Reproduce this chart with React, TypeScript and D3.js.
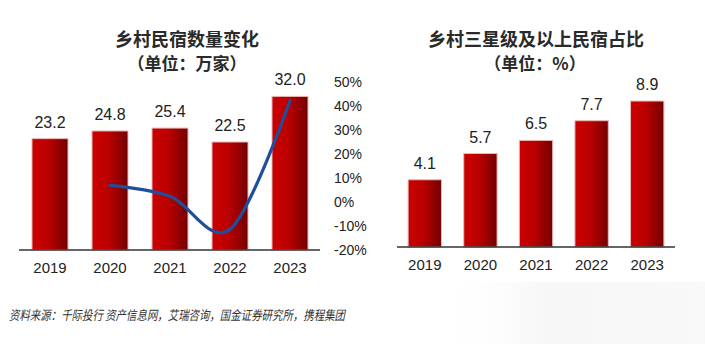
import React from "react";
import * as d3 from "d3";

const years = ["2019", "2020", "2021", "2022", "2023"];
const homestayCount = [23.2, 24.8, 25.4, 22.5, 32.0];
const growthYears = ["2020", "2021", "2022", "2023"];
const growthRate = [6.9, 2.4, -11.4, 42.2];
const growthTicks = [-20, -10, 0, 10, 20, 30, 40, 50];
const threeStarShare = [4.1, 5.7, 6.5, 7.7, 8.9];

const leftTitle = "乡村民宿数量变化";
const leftSub = "（单位：万家）";
const rightTitle = "乡村三星级及以上民宿占比";
const rightSub = "（单位：%）";
const source = "资料来源：千际投行 资产信息网，艾瑞咨询，国金证券研究所，携程集团";

const NUM_FONT = "'Liberation Sans', Arial, sans-serif";
const CJK_FONT = "'Noto Sans CJK SC', 'Noto Sans', sans-serif";

export default function App() {
  const W = 705;
  const H = 344;

  // Left chart
  const xL = d3.scaleBand<string>().domain(years).range([20, 320]).paddingInner(0.4).paddingOuter(0.2);
  const yL = d3.scaleLinear().domain([0, 35]).range([250, 82]);
  const yR = d3.scaleLinear().domain([-20, 50]).range([250, 82]);

  // Right chart
  const x2 = d3.scaleBand<string>().domain(years).range([397, 675]).paddingInner(0.4).paddingOuter(0.2);
  const y2 = d3.scaleLinear().domain([0, 10]).range([247, 83]);

  const linePts: [number, number][] = growthYears.map((y, i) => [
    (xL(y) as number) + xL.bandwidth() / 2,
    yR(growthRate[i]),
  ]);
  const lineGen = d3.line().curve(d3.curveCatmullRom.alpha(0));
  const linePath = lineGen(linePts) || "";

  return (
    <svg
      width={W}
      height={H}
      viewBox={`0 0 ${W} ${H}`}
      style={{ position: "absolute", left: 0, top: 0, background: "#fff" }}
    >
      <defs>
        <linearGradient id="barGrad" x1="0" y1="0" x2="1" y2="0">
          <stop offset="0%" stopColor="#cc0000" />
          <stop offset="45%" stopColor="#bb0000" />
          <stop offset="100%" stopColor="#740000" />
        </linearGradient>
        <linearGradient id="wm" x1="0" y1="0" x2="1" y2="0">
          <stop offset="0%" stopColor="#ffffff" stopOpacity={0} />
          <stop offset="40%" stopColor="#f3f3f3" stopOpacity={1} />
          <stop offset="100%" stopColor="#f6f6f6" stopOpacity={1} />
        </linearGradient>
      </defs>
      <rect x={0} y={0} width={W} height={H} fill="#fff" />
      <rect x={440} y={282} width={265} height={62} fill="url(#wm)" opacity={0.7} />

      {/* Left titles */}
      <text x={187} y={46} textAnchor="middle" fontFamily={CJK_FONT} fontWeight="bold" fontSize={18} fill="#2a2a2a">
        {leftTitle}
      </text>
      <text x={187} y={70} textAnchor="middle" fontFamily={CJK_FONT} fontWeight="bold" fontSize={17} fill="#2a2a2a">
        {leftSub}
      </text>

      {/* Left bars */}
      {years.map((y, i) => (
        <g key={"lb" + y}>
          <rect
            x={xL(y)}
            y={yL(homestayCount[i])}
            width={xL.bandwidth()}
            height={yL(0) - yL(homestayCount[i])}
            fill="url(#barGrad)"
            stroke="#eab8b8"
            strokeWidth={1}
          />
          <text
            x={(xL(y) as number) + xL.bandwidth() / 2}
            y={yL(homestayCount[i]) - 11}
            textAnchor="middle"
            fontFamily={NUM_FONT}
            fontSize={16}
            fill="#222"
          >
            {homestayCount[i].toFixed(1)}
          </text>
          <text
            x={(xL(y) as number) + xL.bandwidth() / 2}
            y={273}
            textAnchor="middle"
            fontFamily={NUM_FONT}
            fontSize={15}
            fill="#222"
          >
            {y}
          </text>
        </g>
      ))}
      <line x1={19} x2={320} y1={250} y2={250} stroke="#333" strokeWidth={1.5} />

      {/* Growth line */}
      <path d={linePath} fill="none" stroke="#1f4f9a" strokeWidth={3.2} strokeLinecap="round" />

      {/* Right axis ticks of left chart */}
      {growthTicks.map((t) => (
        <text
          key={"gt" + t}
          x={334}
          y={yR(t)}
          dy="0.35em"
          fontFamily={NUM_FONT}
          fontSize={14}
          fill="#222"
        >
          {t + "%"}
        </text>
      ))}

      {/* Right titles */}
      <text x={536} y={46} textAnchor="middle" fontFamily={CJK_FONT} fontWeight="bold" fontSize={18} fill="#2a2a2a">
        {rightTitle}
      </text>
      <text x={535} y={70} textAnchor="middle" fontFamily={CJK_FONT} fontWeight="bold" fontSize={17} fill="#2a2a2a">
        {rightSub}
      </text>

      {/* Right bars */}
      {years.map((y, i) => (
        <g key={"rb" + y}>
          <rect
            x={x2(y)}
            y={y2(threeStarShare[i])}
            width={x2.bandwidth()}
            height={y2(0) - y2(threeStarShare[i])}
            fill="url(#barGrad)"
            stroke="#eab8b8"
            strokeWidth={1}
          />
          <text
            x={(x2(y) as number) + x2.bandwidth() / 2}
            y={y2(threeStarShare[i]) - 11}
            textAnchor="middle"
            fontFamily={NUM_FONT}
            fontSize={16}
            fill="#222"
          >
            {threeStarShare[i].toFixed(1)}
          </text>
          <text
            x={(x2(y) as number) + x2.bandwidth() / 2}
            y={270}
            textAnchor="middle"
            fontFamily={NUM_FONT}
            fontSize={15}
            fill="#222"
          >
            {y}
          </text>
        </g>
      ))}
      <line x1={397} x2={675} y1={247} y2={247} stroke="#333" strokeWidth={1.5} />

      {/* Source */}
      <text
        x={9}
        y={320}
        fontFamily={CJK_FONT}
        fontStyle="italic"
        fontSize={13}
        fill="#333"
        textLength={336}
        lengthAdjust="spacingAndGlyphs"
      >
        {source}
      </text>
    </svg>
  );
}
